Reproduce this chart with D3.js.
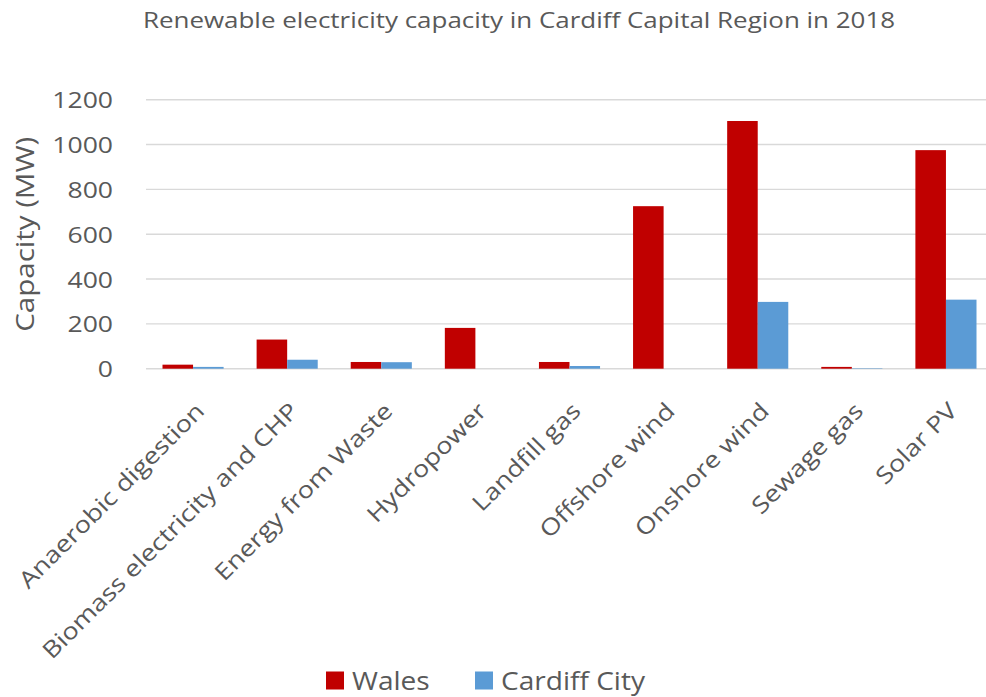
<!DOCTYPE html>
<html>
<head>
<meta charset="utf-8">
<script src="https://cdn.jsdelivr.net/npm/d3@7"></script>
<style>
  body { margin: 0; background: #fff; }
  svg { display: block; }
</style>
</head>
<body>
<svg id="chart" width="986" height="697"></svg>
<script>
// Renewable electricity capacity (MW), 2018
const categories = [
  "Anaerobic digestion",
  "Biomass electricity and CHP",
  "Energy from Waste",
  "Hydropower",
  "Landfill gas",
  "Offshore wind",
  "Onshore wind",
  "Sewage gas",
  "Solar PV"
];
const seriesNames = ["Wales", "Cardiff City"];
const walesValues = [18, 130, 30, 182, 30, 725, 1105, 8, 975];
const cardiffValues = [8, 40, 29, 0, 12, 0, 298, 2, 308];
const yTicks = [0, 200, 400, 600, 800, 1000, 1200];
const colors = ["#C00000", "#5B9BD5"];

const FONT = "'Open Sans', 'Noto Sans', sans-serif";
const textColor = "#595959";
const stretch = 1.18; // wide glyph proportions

const svg = d3.select("#chart").attr("font-family", FONT);
const plot = { left: 146, right: 993, top: 99.7, bottom: 368.7 };

const x = d3.scaleBand().domain(categories).range([plot.left, plot.right]);
const inner = d3.scaleBand().domain(seriesNames).range([0, x.bandwidth()]).paddingOuter(0.54);
const y = d3.scaleLinear().domain([0, 1200]).range([plot.bottom, plot.top]);

// horizontal gridlines
svg.append("g")
  .selectAll("line")
  .data(yTicks)
  .join("line")
  .attr("x1", plot.left)
  .attr("x2", plot.right)
  .attr("y1", d => y(d))
  .attr("y2", d => y(d))
  .attr("stroke", "#d9d9d9")
  .attr("stroke-width", 1.4);

// value axis labels
const yAxis = d3.axisLeft(y).tickValues(yTicks).tickFormat(d3.format("d")).tickSize(0).tickPadding(0);
const yg = svg.append("g")
  .attr("transform", `translate(${plot.left - 33},0)`)
  .call(yAxis)
  .attr("font-family", FONT)
  .attr("font-size", 22.5);
yg.select(".domain").remove();
yg.selectAll("text")
  .attr("fill", textColor)
  .attr("x", 0)
  .attr("dy", "0.36em")
  .attr("transform", `scale(${stretch},1)`);

// bars
const data = categories.map((c, i) => ({ cat: c, vals: [walesValues[i], cardiffValues[i]] }));
const groups = svg.append("g").selectAll("g")
  .data(data)
  .join("g")
  .attr("transform", d => `translate(${x(d.cat)},0)`);

groups.selectAll("rect")
  .data(d => d.vals.map((v, j) => ({ name: seriesNames[j], v, j })))
  .join("rect")
  .attr("x", d => inner(d.name))
  .attr("width", inner.bandwidth())
  .attr("y", d => y(d.v))
  .attr("height", d => y(0) - y(d.v))
  .attr("fill", d => colors[d.j]);

// category labels, rotated 45 degrees
const xAxis = d3.axisBottom(x).tickSize(0).tickPadding(0);
const xg = svg.append("g")
  .attr("transform", `translate(0,${plot.bottom})`)
  .call(xAxis)
  .attr("font-family", FONT)
  .attr("font-size", 23);
xg.select(".domain").remove();
xg.selectAll("text")
  .attr("fill", textColor)
  .attr("text-anchor", "end")
  .attr("y", 0)
  .attr("dy", "0.72em")
  .attr("transform", `translate(1,32) rotate(-45) scale(${stretch},1)`);

// title
svg.append("g")
  .attr("transform", "translate(519,28)")
  .append("text")
  .attr("text-anchor", "middle")
  .attr("fill", textColor)
  .attr("font-size", 22)
  .attr("transform", `scale(${stretch},1)`)
  .text("Renewable electricity capacity in Cardiff Capital Region in 2018");

// value axis title
svg.append("text")
  .attr("transform", `translate(34,${(plot.top + plot.bottom) / 2}) rotate(-90) scale(${stretch},1)`)
  .attr("text-anchor", "middle")
  .attr("fill", textColor)
  .attr("font-size", 25)
  .text("Capacity (MW)");

// legend
const legendX = [326, 475];
const legend = svg.append("g").selectAll("g")
  .data(seriesNames)
  .join("g")
  .attr("transform", (d, i) => `translate(${legendX[i]},671.5)`);
legend.append("rect").attr("width", 18).attr("height", 18).attr("fill", (d, i) => colors[i]);
legend.append("g")
  .attr("transform", "translate(26,18)")
  .append("text")
  .attr("fill", textColor)
  .attr("font-size", 26)
  .attr("transform", "scale(1.08,1)")
  .text(d => d);
</script>
</body>
</html>
